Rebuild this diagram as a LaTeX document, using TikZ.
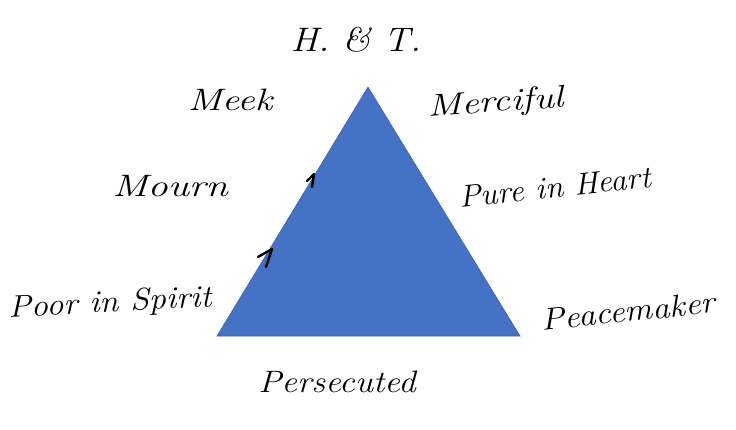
\documentclass[tikz,border=0pt]{standalone}
\definecolor{triblue}{HTML}{4472C4}
\definecolor{triedge}{HTML}{3B64AD}
\begin{document}
\begin{tikzpicture}[x=1pt,y=-1pt,
  lbl/.style={font=\fontsize{31}{34}\selectfont\itshape, text=black, inner sep=1pt},
  tick/.style={draw=black, line width=2.4pt, line cap=round, line join=round}]
\useasboundingbox (0,0) rectangle (736,430);
\fill[white] (0,0) rectangle (736,430);
% triangle
\coordinate (apex) at (368,87);
\coordinate (bl) at (217,336);
\coordinate (br) at (520,336);
\filldraw[fill=triblue, draw=triedge, line width=0.6pt] (apex) -- (br) -- (bl) -- cycle;
% little marks on left edge
\coordinate (m1a) at (266,267); \coordinate (m1b) at (272,249); \coordinate (m1c) at (258,257);
\draw[tick] (m1a) -- (m1b) -- (m1c);
\coordinate (m2a) at (312,187); \coordinate (m2b) at (314,174); \coordinate (m2c) at (307,181);
\draw[tick] (m2a) -- (m2b) -- (m2c);
% labels
\node[lbl, font=\fontsize{34}{38}\selectfont\itshape, xscale=1.1] (ht) at (356,40) {H. \& T.};
\node[lbl, xscale=1.25] (meek) at (230,100) {Meek};
\node[lbl, rotate=4, xscale=1.25] (merciful) at (496,104) {Merciful};
\node[lbl, xscale=1.3] (mourn) at (170,186) {Mourn};
\node[lbl, rotate=6, xscale=1.05] (pure) at (555,187) {Pure in Heart};
\node[lbl, rotate=3, xscale=1.1] (poor) at (110,304) {Poor in Spirit};
\node[lbl, rotate=6, xscale=1.12] (peace) at (628,311) {Peacemaker};
\node[lbl, xscale=1.12] (pers) at (337,382) {Persecuted};
\end{tikzpicture}
\end{document}
